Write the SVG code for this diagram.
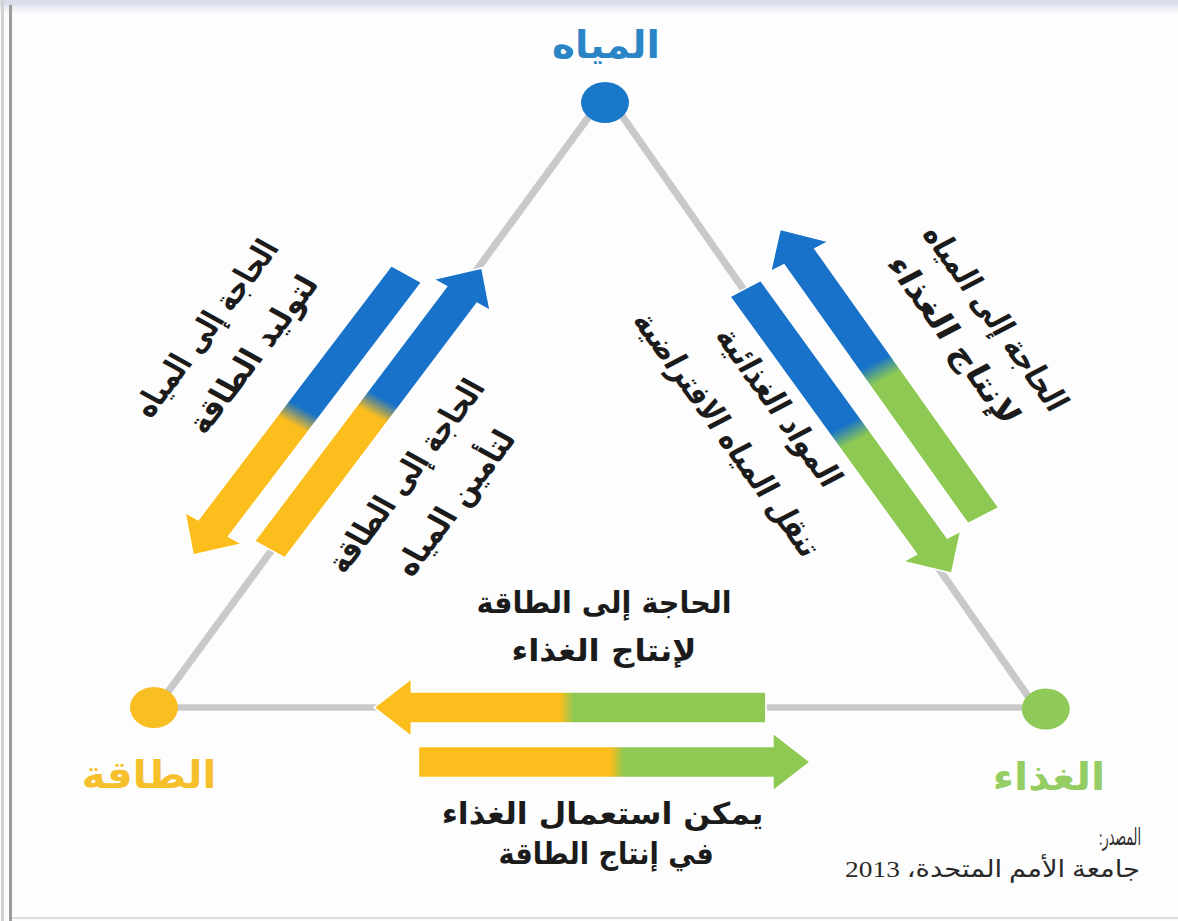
<svg xmlns="http://www.w3.org/2000/svg" xmlns:xlink="http://www.w3.org/1999/xlink" width="1178" height="921" viewBox="0 0 1178 921">
<style>
.edge{fill:none;stroke:#c9c9c9;stroke-width:6.5;stroke-linecap:round;stroke-linejoin:round}
.arr{stroke:#ffffff;stroke-width:1.5}
.lbl{font-family:"DejaVu Sans",sans-serif;font-weight:bold;font-size:29px;fill:#1b1b1b;direction:rtl;text-anchor:middle}
.hlbl{font-family:"DejaVu Sans",sans-serif;font-weight:bold;font-size:30px;fill:#1b1b1b;direction:rtl;text-anchor:middle}
.node-t{font-family:"DejaVu Sans",sans-serif;font-weight:bold;font-size:38px;direction:rtl;text-anchor:middle}
.src{font-family:"Liberation Serif","DejaVu Sans",serif;font-size:24px;fill:#2a2a2a;direction:rtl;text-anchor:middle}
</style>
<defs>
<path id="arrow" d="M0,-15.5 H303 V-29 L335,0 L303,29 V15.5 H0 Z"/>
<linearGradient id="gBY" gradientUnits="userSpaceOnUse" x1="0" y1="0" x2="335" y2="0"><stop offset="0.48" stop-color="#1872c9"/><stop offset="0.535" stop-color="#fbbe1d"/></linearGradient>
<linearGradient id="gYB" gradientUnits="userSpaceOnUse" x1="0" y1="0" x2="335" y2="0"><stop offset="0.48" stop-color="#fbbe1d"/><stop offset="0.535" stop-color="#1872c9"/></linearGradient>
<linearGradient id="gBG" gradientUnits="userSpaceOnUse" x1="0" y1="0" x2="335" y2="0"><stop offset="0.48" stop-color="#1872c9"/><stop offset="0.535" stop-color="#8dc953"/></linearGradient>
<linearGradient id="gGB" gradientUnits="userSpaceOnUse" x1="0" y1="0" x2="335" y2="0"><stop offset="0.48" stop-color="#8dc953"/><stop offset="0.535" stop-color="#1872c9"/></linearGradient>
<linearGradient id="gGY" gradientUnits="userSpaceOnUse" x1="0" y1="0" x2="335" y2="0"><stop offset="0.49" stop-color="#8dc953"/><stop offset="0.525" stop-color="#fbbe1d"/></linearGradient>
<linearGradient id="gYG" gradientUnits="userSpaceOnUse" x1="0" y1="0" x2="335" y2="0"><stop offset="0.49" stop-color="#fbbe1d"/><stop offset="0.525" stop-color="#8dc953"/></linearGradient>
<linearGradient id="topband" x1="0" y1="0" x2="0" y2="1"><stop offset="0" stop-color="#d6dbe9"/><stop offset="1" stop-color="#fdfdfd"/></linearGradient>
</defs>
<rect x="0" y="0" width="1178" height="921" fill="#fdfdfd"/>
<g id="frame">
<rect x="0" y="0" width="1178" height="14" fill="url(#topband)"/>
<rect x="0" y="0" width="1178" height="5" fill="#dbdfeb"/>
<rect x="1" y="0" width="3" height="921" fill="#d2d2d2"/>
<rect x="9" y="5" width="3" height="916" fill="#9c9c9c"/>
<rect x="12" y="917" width="1166" height="2" fill="#dcdcdc"/>
</g>
<g transform="scale(1.17,1)">
<g id="connectors">
<path class="edge" d="M133.8,707.5 L518,93 L885.4,707.5 Z"/>
<use xlink:href="#arrow" class="arr" fill="url(#gBY)" transform="translate(347.4,274) rotate(123)"/>
<use xlink:href="#arrow" class="arr" fill="url(#gYB)" transform="translate(230.5,549.6) rotate(-57.19)"/>
<use xlink:href="#arrow" class="arr" fill="url(#gBG)" transform="translate(637,288.5) rotate(58.22)"/>
<use xlink:href="#arrow" class="arr" fill="url(#gGB)" transform="translate(840.5,515.7) rotate(-121.26)"/>
<use xlink:href="#arrow" class="arr" fill="url(#gGY)" transform="translate(654.7,707.5) rotate(180)"/>
<use xlink:href="#arrow" class="arr" fill="url(#gYG)" transform="translate(357.5,762)"/>
</g>
<g id="node-water">
<circle cx="517.1" cy="102.5" r="20.5" fill="#1a78c9"/>
<text class="node-t" x="517.9" y="58" fill="#2a85c6" textLength="92" lengthAdjust="spacingAndGlyphs">المياه</text>
</g>
<g id="node-energy">
<circle cx="131.6" cy="707.5" r="20.5" fill="#f8be22"/>
<text class="node-t" x="127.4" y="788" fill="#f5c02c" textLength="115" lengthAdjust="spacingAndGlyphs">الطاقة</text>
</g>
<g id="node-food">
<circle cx="893.8" cy="709" r="20.5" fill="#8fca58"/>
<text class="node-t" x="896.6" y="790" fill="#94cd63" textLength="96" lengthAdjust="spacingAndGlyphs">الغذاء</text>
</g>
<g id="connector-labels">
<g transform="translate(200,344) rotate(-57.1)">
<text class="lbl" x="0" y="-19" textLength="204" lengthAdjust="spacingAndGlyphs">الحاجة إلى المياه</text>
<text class="lbl" x="0" y="29" textLength="181" lengthAdjust="spacingAndGlyphs">لتوليد الطاقة</text>
</g>
<g transform="translate(371.8,492) rotate(-57.1)">
<text class="lbl" x="0" y="-20" textLength="223" lengthAdjust="spacingAndGlyphs">الحاجة إلى الطاقة</text>
<text class="lbl" x="0" y="30" textLength="166" lengthAdjust="spacingAndGlyphs">لتأمين المياه</text>
</g>
<g transform="translate(829,331.7) rotate(58.5)">
<text class="lbl" x="0" y="-16" textLength="211" lengthAdjust="spacingAndGlyphs">الحاجة إلى المياه</text>
<text class="lbl" x="0" y="26" textLength="192" lengthAdjust="spacingAndGlyphs">لإنتاج الغذاء</text>
</g>
<g transform="translate(639.6,423.3) rotate(58.5)">
<text class="lbl" x="0" y="-21" textLength="180" lengthAdjust="spacingAndGlyphs">المواد الغذائية</text>
<text class="lbl" x="0" y="31" textLength="280" lengthAdjust="spacingAndGlyphs">تنقل المياه الافتراضية</text>
</g>
<text class="hlbl" x="516.2" y="613" textLength="218" lengthAdjust="spacingAndGlyphs">الحاجة إلى الطاقة</text>
<text class="hlbl" x="516.2" y="661" textLength="158" lengthAdjust="spacingAndGlyphs">لإنتاج الغذاء</text>
<text class="hlbl" x="515" y="824" textLength="275" lengthAdjust="spacingAndGlyphs">يمكن استعمال الغذاء</text>
<text class="hlbl" x="518" y="864" textLength="184" lengthAdjust="spacingAndGlyphs">في إنتاج الطاقة</text>
</g>
</g>
<g id="source">
<text class="src" x="1120" y="845" textLength="42" lengthAdjust="spacingAndGlyphs">المصدر:</text>
<text class="src" x="992.5" y="877" textLength="295" lengthAdjust="spacingAndGlyphs">جامعة الأمم المتحدة، 2013</text>
</g>
</svg>
